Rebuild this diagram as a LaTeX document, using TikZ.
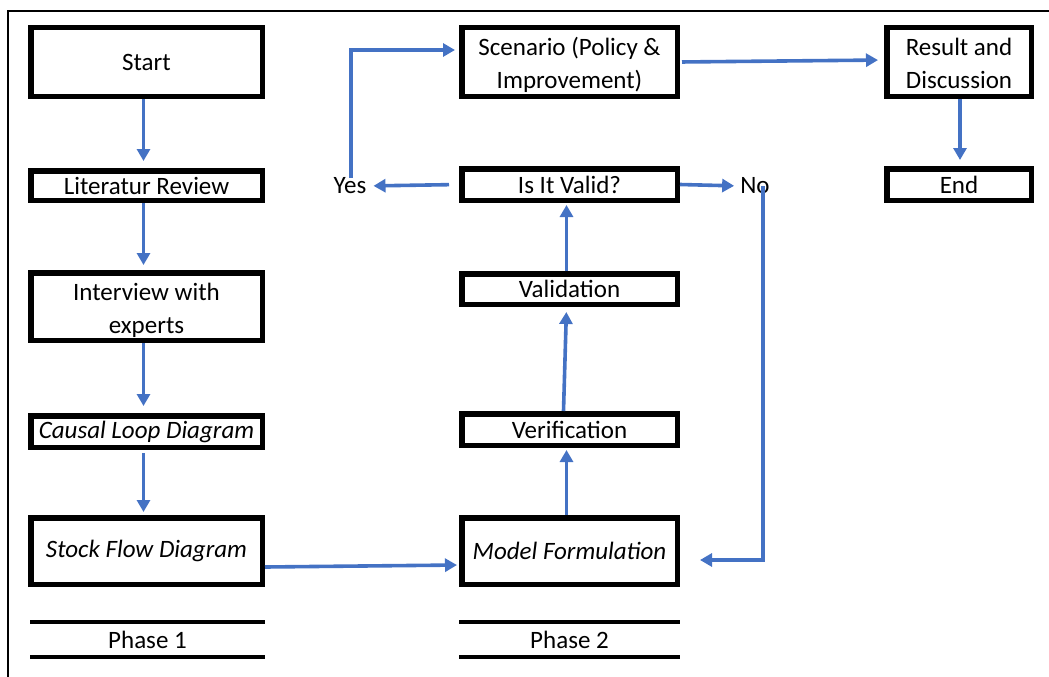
\documentclass[tikz,border=0pt]{standalone}
\usepackage{fontspec}
\setmainfont{Carlito}
\usetikzlibrary{arrows.meta,calc}
\definecolor{flowblue}{RGB}{68,114,196}
\begin{document}
\begin{tikzpicture}[x=1pt,y=-1pt,
  box/.style={draw=black,line width=5.5pt,fill=white,align=center,inner sep=0pt,
    font=\fontsize{25}{33}\selectfont},
  twoline/.style={text height=53pt,text depth=0pt},
  wide/.style={box,minimum width=231.5pt},
  mid/.style={box,minimum width=215.5pt},
  narrow/.style={box,minimum width=144.5pt},
  label/.style={inner sep=0pt,font=\fontsize{25}{33}\selectfont},
  flow/.style={draw=flowblue,line width=3.6pt,-{Triangle[length=12pt,width=13pt]}},
  rule/.style={line width=4pt}]
\useasboundingbox (0,0) rectangle (1049,677);
% outer frame (top and left edges)
\draw[line width=2.8pt] (8,677) -- (8,11) -- (1049,11);

% phase 1 column
\node[wide,minimum height=68.5pt] (start) at (146.5,62) {Start};
\node[wide,minimum height=29.5pt] (lit) at (146.5,185.5) {Literatur Review};
\node[wide,twoline,minimum height=67.5pt] (intv) at (146.5,306.5) {Interview with\\experts};
\node[wide,minimum height=31.5pt] (cld) at (146.5,431.5) {\itshape Causal Loop Diagram};
\node[wide,minimum height=66.5pt] (sfd) at (146.5,551) {\itshape Stock Flow Diagram};

% phase 2 column
\node[mid,twoline,minimum height=68.5pt] (scen) at (569.5,62) {Scenario (Policy \&\\Improvement)};
\node[mid,minimum height=31.5pt] (valid) at (569.5,184.5) {Is It Valid?};
\node[mid,minimum height=30.5pt] (vald) at (569.5,289) {Validation};
\node[mid,minimum height=31.5pt] (verif) at (569.5,429.5) {Verification};
\node[mid,minimum height=66.5pt] (model) at (569.5,551) {\itshape Model Formulation};

% final column
\node[narrow,twoline,minimum height=68.5pt] (result) at (959,62) {Result and\\Discussion};
\node[narrow,minimum height=31.5pt] (end) at (959,184.5) {End};

% decision labels
\node[label] (yes) at (350,186) {Yes};
\node[label] (no) at (755,186) {No};

% phase captions between rules
\draw[rule] (30,622) -- (265,622);
\draw[rule] (30,657) -- (265,657);
\node[label] (ph1) at (147.5,640) {Phase 1};
\draw[rule] (459,622) -- (680,622);
\draw[rule] (459,657) -- (680,657);
\node[label] (ph2) at (569.5,640) {Phase 2};

% connectors
\draw[flow,shorten >=7pt] ($(start.south)+(-3,0)$) -- ($(lit.north)+(-3,0)$);
\draw[flow,shorten >=5pt] ($(lit.south)+(-3,0)$) -- ($(intv.north)+(-3,0)$);
\draw[flow,shorten >=7pt] ($(intv.south)+(-3,0)$) -- ($(cld.north)+(-3,0)$);
\draw[flow,shorten <=3pt,shorten >=3pt] ($(cld.south)+(-3,0)$) -- ($(sfd.north)+(-3,0)$);
\draw[flow,shorten >=2pt] ($(sfd.east)+(0,16)$) -- ($(model.west)+(0,14)$);
\draw[flow,shorten >=2pt] ($(model.north)+(-3,0)$) -- ($(verif.south)+(-3,0)$);
\draw[flow,shorten >=5pt] ($(verif.north)+(-6,0)$) -- ($(vald.south)+(-3,0)$);
\draw[flow,shorten >=2pt] ($(vald.north)+(-3,0)$) -- ($(valid.south)+(-3,0)$);
\draw[flow,shorten <=10pt,shorten >=7pt] (valid.west) -- (yes.east);
\coordinate (scenin) at ($(scen.west)+(0,-12)$);
\draw[flow,shorten >=4pt] ($(yes.north)+(1,0)$) |- (scenin);
\draw[flow,shorten >=6pt] (valid.east) -- (no.west);
\coordinate (modin) at ($(model.east)+(0,9)$);
\draw[flow,shorten >=20pt] ($(no.south)+(8,-8)$) |- (modin);
\draw[flow,shorten <=2pt,shorten >=6pt] (scen.east) -- ($(result.west)+(0,-2)$);
\draw[flow,shorten >=6pt] ($(result.south)+(1,0)$) -- ($(end.north)+(1,0)$);
\end{tikzpicture}
\end{document}
